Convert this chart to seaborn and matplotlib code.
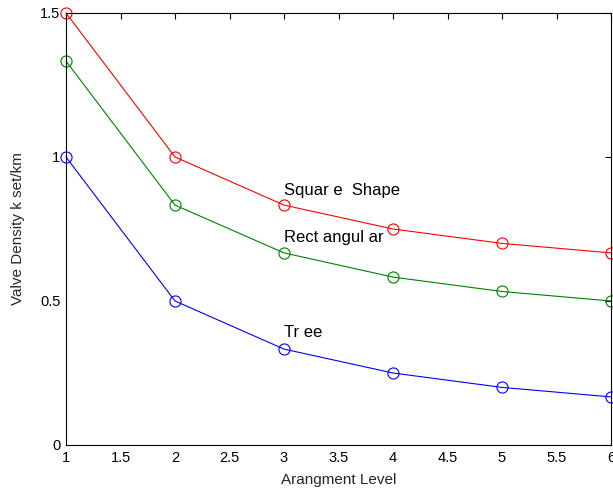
import matplotlib
matplotlib.use("Agg")
import matplotlib.pyplot as plt
import seaborn as sns
import pandas as pd

# arrangement levels and valve densities
levels = [1, 2, 3, 4, 5, 6]
square_shape = [1.5, 1.0, 0.833, 0.75, 0.7, 0.667]
rectangular = [1.333, 0.833, 0.667, 0.583, 0.533, 0.5]
tree = [1.0, 0.5, 0.333, 0.25, 0.2, 0.167]

series_names = ["Squar e  Shape", "Rect angul ar", "Tr ee"]
series_colors = ["#ff0000", "#008000", "#0000ff"]
label_pos = [(3.0, 0.885), (3.0, 0.719), (3.0, 0.389)]

x_ticks = [1, 1.5, 2, 2.5, 3, 3.5, 4, 4.5, 5, 5.5, 6]
x_tick_labels = ["1", "1.5", "2", "2.5", "3", "3.5", "4", "4.5", "5", "5.5", "6"]
y_ticks = [0, 0.5, 1, 1.5]
y_tick_labels = ["0", "0.5", "1", "1.5"]

sns.set_style("white")
plt.rcParams["font.family"] = ["Liberation Sans", "DejaVu Sans"]

df = pd.DataFrame({
    "level": levels * 3,
    "density": square_shape + rectangular + tree,
    "shape": [n for n in series_names for _ in levels],
})

fig = plt.figure(figsize=(6.13, 4.93), dpi=100)
ax = fig.add_axes([66 / 613, 48 / 493, 545 / 613, 432 / 493])

for name, color in zip(series_names, series_colors):
    sub = df[df["shape"] == name]
    sns.lineplot(data=sub, x="level", y="density", ax=ax, color=color,
                 linewidth=0.8, marker="o", markersize=8,
                 markerfacecolor="none", markeredgecolor=color,
                 markeredgewidth=0.8, clip_on=False, legend=False)

for name, (tx, ty) in zip(series_names, label_pos):
    ax.text(tx, ty, name, fontsize=12, ha="left", va="center", color="black")

ax.set_xlim(1, 6)
ax.set_ylim(0, 1.5)
ax.set_xticks(x_ticks)
ax.set_xticklabels(x_tick_labels)
ax.set_yticks(y_ticks)
ax.set_yticklabels(y_tick_labels)
ax.tick_params(direction="in", length=4, width=0.8, top=True, right=True,
               labelsize=10.5, colors="black", pad=4)
ax.set_xlabel("Arangment Level", fontsize=11)
ax.set_ylabel("Valve Density k set/km", fontsize=11)
ax.xaxis.set_label_coords(0.5, -0.065)
ax.yaxis.set_label_coords(-0.075, 0.5)
for sp in ax.spines.values():
    sp.set_visible(True)
    sp.set_color("black")
    sp.set_linewidth(0.8)

fig.savefig("out.png", dpi=100)
